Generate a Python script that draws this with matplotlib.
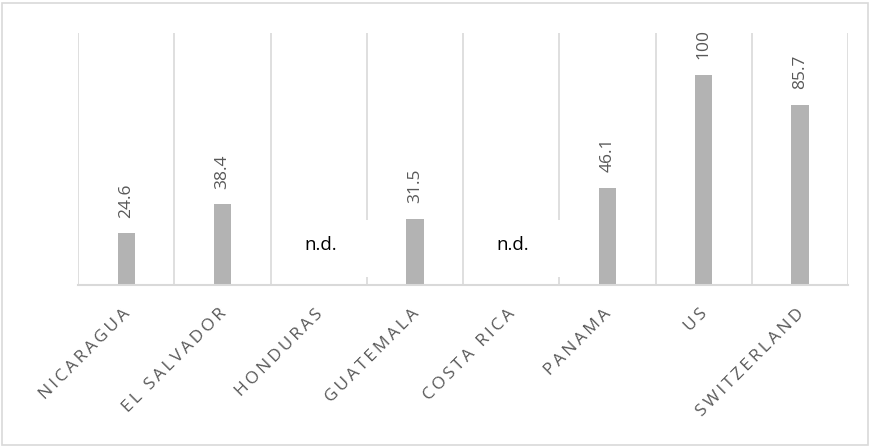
import matplotlib.pyplot as plt
from matplotlib.patches import Rectangle
from matplotlib.transforms import ScaledTranslation

countries = ['NICARAGUA', 'EL SALVADOR', 'HONDURAS', 'GUATEMALA',
             'COSTA RICA', 'PANAMA', 'US', 'SWITZERLAND']
# None = no data available
scores = [24.6, 38.4, None, 31.5, None, 46.1, 100, 85.7]

plt.rcParams['font.family'] = ['Open Sans', 'DejaVu Sans']

fig = plt.figure(figsize=(8.71, 4.47), dpi=100)
ax = fig.add_axes([0.0896, 0.3624, 0.884, 0.5636])

# light frame round the whole figure
fig.patches.append(Rectangle((0.002, 0.004), 0.995, 0.990,
                             transform=fig.transFigure, fill=False,
                             edgecolor='#d9d9d9', lw=1.2))

xs = list(range(len(countries)))
for x, v in zip(xs, scores):
    if v is None:
        # label box sits over the separator on its right
        ax.add_patch(Rectangle((x - 0.2, 4), 0.82, 27, facecolor='white',
                               edgecolor='none', zorder=3))
        ax.text(x + 0.02, 19, 'n.d.', ha='center', va='center',
                fontsize=13.5, color='black', zorder=4)
        continue
    ax.bar(x, v, width=0.18, color='#b3b3b3', zorder=2)
    ax.text(x, v + 7.5, f'{v:g}', rotation=90, ha='center', va='bottom',
            fontsize=12.5, color='#595959')

# category separators
for b in range(len(countries) + 1):
    ax.axvline(b - 0.5, color='#d9d9d9', lw=1.2, zorder=1)

ax.set_xlim(-0.5, len(countries) - 0.5)
ax.set_ylim(0, 120)
ax.set_yticks([])

# letter-spaced category labels (thin spaces between letters)
thin = '\u2009'
spaced = [(thin + ' ' + thin).join(thin.join(w) for w in c.split(' '))
          for c in countries]
ax.set_xticks(xs)
ax.set_xticklabels(spaced, rotation=45, ha='right', rotation_mode='anchor',
                   fontsize=12.5, color='#595959')
ax.tick_params(axis='x', length=0, pad=15)
shift = ScaledTranslation(-4 / 100, 0, fig.dpi_scale_trans)
for lab in ax.get_xticklabels():
    lab.set_transform(lab.get_transform() + shift)

for side in ['top', 'left', 'right']:
    ax.spines[side].set_visible(False)
ax.spines['bottom'].set_color('#d9d9d9')
ax.spines['bottom'].set_linewidth(1.5)

plt.savefig('out.png', dpi=100)
plt.close()
